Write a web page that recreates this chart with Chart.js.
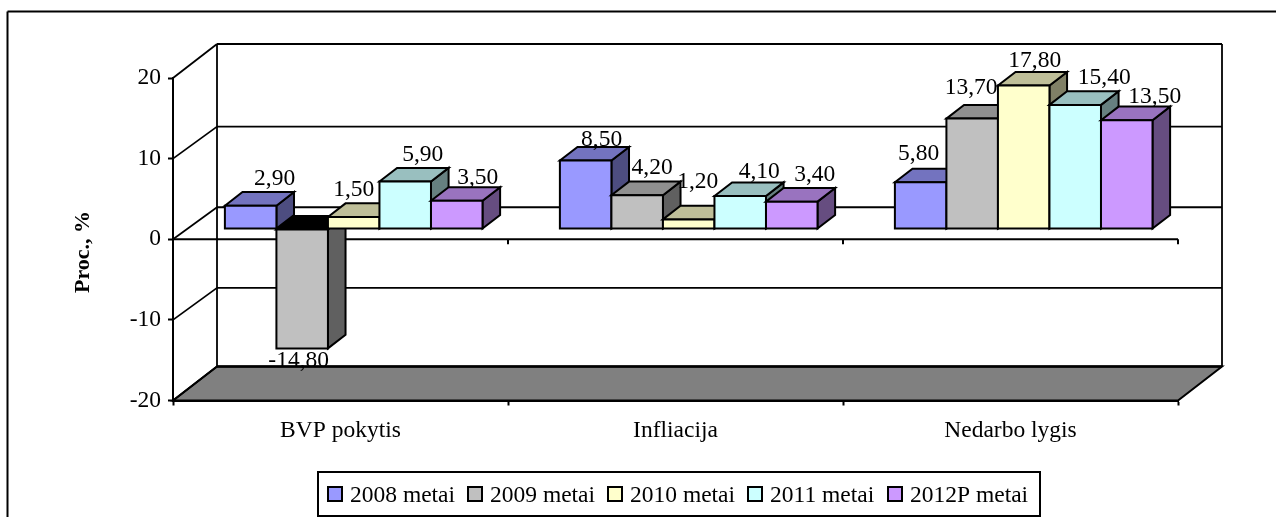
<!DOCTYPE html>
<html>
<head>
<meta charset="utf-8">
<title>Proc., %</title>
<style>
html,body{margin:0;padding:0;background:#fff;overflow:hidden}
canvas{display:block}
</style>
<script src="https://cdn.jsdelivr.net/npm/chart.js@4/dist/chart.umd.min.js"></script>
</head>
<body>
<canvas id="chart" width="1276" height="517"></canvas>
<script>
// Category and series values
const categories = ['BVP pokytis', 'Infliacija', 'Nedarbo lygis'];
const seriesNames = ['2008 metai', '2009 metai', '2010 metai', '2011 metai', '2012P metai'];
const values2008 = [2.9, 8.5, 5.8];
const values2009 = [-14.8, 4.2, 13.7];
const values2010 = [1.5, 1.2, 17.8];
const values2011 = [5.9, 4.1, 15.4];
const values2012 = [3.5, 3.4, 13.5];
const seriesValues = [values2008, values2009, values2010, values2011, values2012];
const seriesColors = ['#9999FF', '#C0C0C0', '#FFFFCC', '#CCFFFF', '#CC99FF'];
const axisTitle = 'Proc., %';

const FONT = '"Liberation Serif", "Times New Roman", serif';
const TEXT_SIZE = 23.5;

// Hand placement of each value label, relative to its bar, per series then category
const labelNudge = [
  [[24, -28.5], [16, -23], [-2, -30]],
  [[-3.5, 10.5], [15, -29], [-1, -33]],
  [[0, -29], [9, -39.7], [11, -27]],
  [[17.5, -28], [19, -26], [29, -29]],
  [[21, -24.5], [23, -29], [28, -25]]
];

// Oblique projection of the box: wall depth and where the bars sit inside it
const DEPTH_X = 44;
const BAR_SHIFT_X = 13.2, BAR_SHIFT_Y = 10.2;
const BAR_DEPTH_X = 17.6, BAR_DEPTH_Y = 13.6;
const backOffset = v => Math.abs(v) === 20 ? 34 : 32;

function shade(hex, k) {
  const n = parseInt(hex.slice(1), 16);
  const c = [n >> 16 & 255, n >> 8 & 255, n & 255].map(x => Math.round(x * k));
  return 'rgb(' + c.join(',') + ')';
}

function poly(ctx, pts, fill, stroke, lw) {
  ctx.beginPath();
  pts.forEach((p, i) => i ? ctx.lineTo(p[0], p[1]) : ctx.moveTo(p[0], p[1]));
  ctx.closePath();
  if (fill) { ctx.fillStyle = fill; ctx.fill(); }
  if (stroke) { ctx.strokeStyle = stroke; ctx.lineWidth = lw; ctx.lineJoin = 'miter'; ctx.stroke(); }
}

function line(ctx, x1, y1, x2, y2, lw) {
  ctx.beginPath();
  ctx.moveTo(x1, y1);
  ctx.lineTo(x2, y2);
  ctx.strokeStyle = '#000';
  ctx.lineWidth = lw;
  ctx.stroke();
}

// Back wall, side wall, floor and the category axis at zero
const wallsPlugin = {
  id: 'walls',
  beforeDatasetsDraw(chart) {
    const { ctx, chartArea: a, scales: { y } } = chart;
    ctx.save();
    const bx = a.left + DEPTH_X, rx = a.right + DEPTH_X;
    const yTop = y.getPixelForValue(20) - backOffset(20);
    const yBot = y.getPixelForValue(-20) - backOffset(-20);
    poly(ctx, [[a.left, y.getPixelForValue(-20)], [bx, yBot], [rx, yBot], [a.right, y.getPixelForValue(-20)]], '#808080', '#000', 2);
    y.ticks.forEach(t => {
      const py = y.getPixelForValue(t.value);
      const by = py - backOffset(t.value);
      line(ctx, a.left, py, bx, by, 1.8);
      if (t.value !== -20) line(ctx, bx, by, rx, by, 1.8);
    });
    line(ctx, bx, yTop, bx, yBot, 1.8);
    line(ctx, rx, yTop, rx, yBot, 1.8);
    line(ctx, bx, yBot, rx, yBot, 2.4);
    const y0 = y.getPixelForValue(0);
    line(ctx, a.left, y0, a.right, y0, 2);
    const step = (a.right - a.left) / categories.length;
    for (let i = 1; i <= categories.length; i++) {
      line(ctx, a.left + step * i, y0, a.left + step * i, y0 + 5, 2);
    }
    ctx.restore();
  }
};

// Solid cuboids drawn from each bar element's own geometry, left to right
const cuboidPlugin = {
  id: 'cuboids',
  beforeDatasetsDraw(chart) {
    const { ctx } = chart;
    ctx.save();
    categories.forEach((_, c) => {
      chart.data.datasets.forEach((ds, s) => {
        const bar = chart.getDatasetMeta(s).data[c];
        const color = ds.backgroundColor;
        const l = bar.x - bar.width / 2 + BAR_SHIFT_X;
        const r = bar.x + bar.width / 2 + BAR_SHIFT_X;
        const t = Math.min(bar.y, bar.base) - BAR_SHIFT_Y;
        const b = Math.max(bar.y, bar.base) - BAR_SHIFT_Y;
        const dx = BAR_DEPTH_X, dy = BAR_DEPTH_Y;
        const negative = bar.y > bar.base;
        poly(ctx, [[r, t], [r + dx, t - dy], [r + dx, b - dy], [r, b]], shade(color, 0.5), '#000', 2);
        poly(ctx, [[l, t], [l + dx, t - dy], [r + dx, t - dy], [r, t]], negative ? '#000' : shade(color, 0.75), '#000', 2);
        poly(ctx, [[l, t], [r, t], [r, b], [l, b]], color, '#000', 2);
      });
    });
    ctx.restore();
  },
  beforeDatasetDraw() {
    return false;
  }
};

// Value labels, rotated axis title, legend box and the outer frame
const annotationPlugin = {
  id: 'annotations',
  afterDatasetsDraw(chart) {
    const { ctx } = chart;
    ctx.save();
    ctx.fillStyle = '#000';
    ctx.font = TEXT_SIZE + 'px ' + FONT;
    ctx.textAlign = 'center';
    ctx.textBaseline = 'alphabetic';
    chart.data.datasets.forEach((ds, s) => {
      chart.getDatasetMeta(s).data.forEach((bar, c) => {
        const v = ds.data[c];
        const [nx, ny] = labelNudge[s][c];
        ctx.fillText(v.toFixed(2).replace('.', ','), bar.x + BAR_SHIFT_X + nx, bar.y - BAR_SHIFT_Y + ny + 8);
      });
    });

    ctx.save();
    ctx.translate(89, 252);
    ctx.rotate(-Math.PI / 2);
    ctx.font = 'bold 22px ' + FONT;
    ctx.fillText(axisTitle, 0, 0);
    ctx.restore();

    poly(ctx, [[318, 472], [1040, 472], [1040, 516], [318, 516]], '#fff', '#000', 2);
    ctx.textAlign = 'left';
    ctx.font = TEXT_SIZE + 'px ' + FONT;
    chart.data.datasets.forEach((ds, s) => {
      const sx = 328 + 140 * s;
      poly(ctx, [[sx, 487], [sx + 14, 487], [sx + 14, 501], [sx, 501]], ds.backgroundColor, '#000', 2);
      ctx.fillStyle = '#000';
      ctx.fillText(ds.label, sx + 22, 502);
    });

    line(ctx, 7.5, 11.5, 1276, 11.5, 2);
    line(ctx, 7.5, 11.5, 7.5, 517, 2);
    ctx.restore();
  }
};

new Chart(document.getElementById('chart'), {
  type: 'bar',
  data: {
    labels: categories,
    datasets: seriesNames.map((name, i) => ({
      label: name,
      data: seriesValues[i],
      backgroundColor: seriesColors[i],
      borderColor: '#000',
      borderWidth: 2
    }))
  },
  plugins: [wallsPlugin, cuboidPlugin, annotationPlugin],
  options: {
    responsive: false,
    animation: false,
    categoryPercentage: 0.769,
    barPercentage: 1,
    layout: { padding: { top: 78, right: 98, left: 0, bottom: 0 } },
    plugins: { legend: { display: false }, tooltip: { enabled: false }, title: { display: false } },
    scales: {
      x: {
        afterFit(scale) { scale.height = 116.5; },
        grid: { drawOnChartArea: false, offset: true, tickLength: 5, tickColor: '#000', tickWidth: 2 },
        border: { color: '#000', width: 2 },
        ticks: { color: '#000', font: { family: FONT, size: TEXT_SIZE }, maxRotation: 0, padding: 11 }
      },
      y: {
        min: -20,
        max: 20,
        afterFit(scale) { scale.width = 173; },
        grid: { drawOnChartArea: false, tickLength: 5, tickColor: '#000', tickWidth: 2 },
        border: { color: '#000', width: 2 },
        ticks: { color: '#000', stepSize: 10, font: { family: FONT, size: TEXT_SIZE }, padding: 7 }
      }
    }
  }
});
</script>
</body>
</html>
